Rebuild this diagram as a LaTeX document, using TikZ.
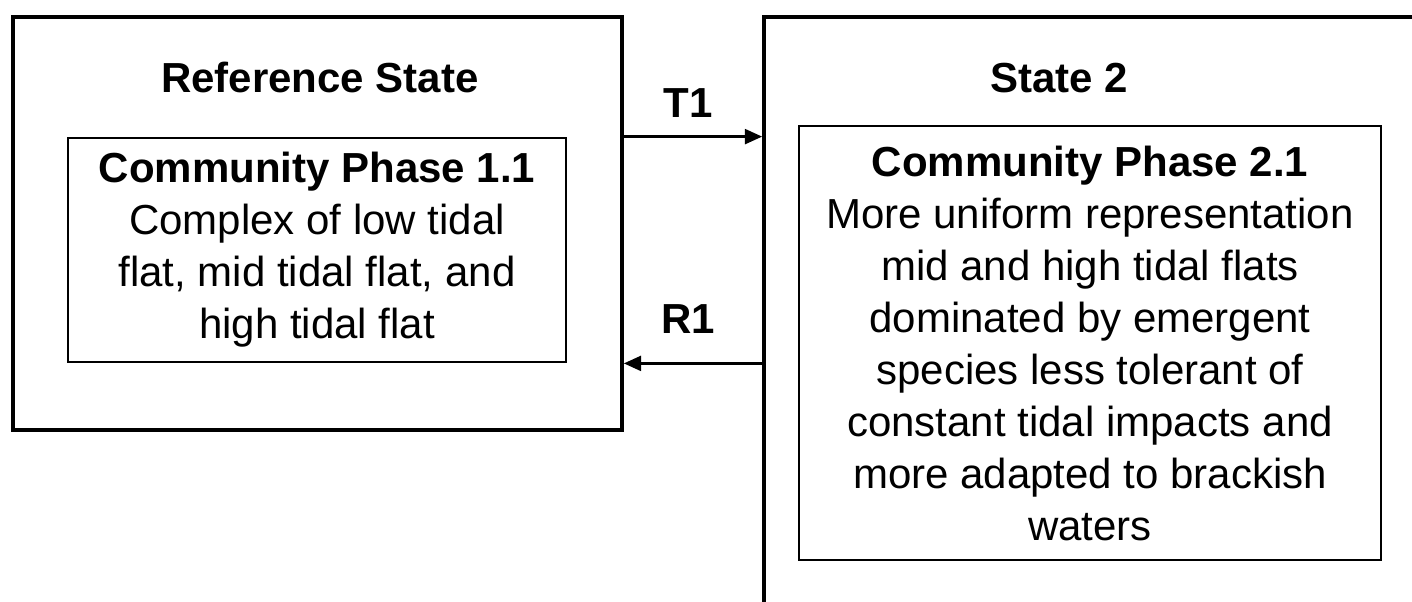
\documentclass[tikz,border=0pt]{standalone}
\usepackage{fontspec}
\setmainfont{Liberation Sans}
\usetikzlibrary{arrows.meta,positioning}

\tikzset{
  statebox/.style={draw, rectangle, line width=2.6pt, inner sep=0pt},
  phasebox/.style={draw, rectangle, line width=2.1pt, inner sep=0pt, align=center,
    font=\fontsize{31.5pt}{39pt}\selectfont},
  heading/.style={anchor=base, inner sep=0pt, font=\fontsize{31.5pt}{39pt}\selectfont\bfseries},
  trans/.style={line width=2.4pt, -{Triangle[length=13pt,width=11pt]}},
}

\begin{document}
\begin{tikzpicture}[x=0.75pt, y=-0.75pt]
  \path[use as bounding box] (0,0) rectangle (1412,601);
  \clip (0,0) rectangle (1412,601);
  % states
  \node[statebox, minimum width=456.75pt, minimum height=309.75pt] (refstate) at (317.5,223.5) {};
  \node[statebox, minimum width=514.5pt, minimum height=467.25pt] (state2) at (1107,328.5) {};
  \node[heading] (reftitle) at (320,92) {Reference State};
  \node[heading] (s2title) at (1059,92) {State 2};
  % community phases
  \node[phasebox, minimum width=373.5pt, minimum height=168pt] (phase11) at (317,250)
    {\textbf{Community Phase 1.1}\\ Complex of low tidal\\ flat, mid tidal flat, and\\ high tidal flat};
  \node[phasebox, minimum width=436.5pt, minimum height=325.5pt] (phase21) at (1090,343)
    {\textbf{Community Phase 2.1}\\ More uniform representation\\ mid and high tidal flats\\
     dominated by emergent\\ species less tolerant of\\ constant tidal impacts and\\
     more adapted to brackish\\ waters};
  % transitions
  \draw[trans] (phase11.north -| refstate.east) -- (phase11.north -| state2.west);
  \draw[trans] (phase11.south -| state2.west) -- (phase11.south -| refstate.east);
  \node[heading] (t1) at (688,117) {T1};
  \node[heading] (r1) at (688,333) {R1};
\end{tikzpicture}
\end{document}
